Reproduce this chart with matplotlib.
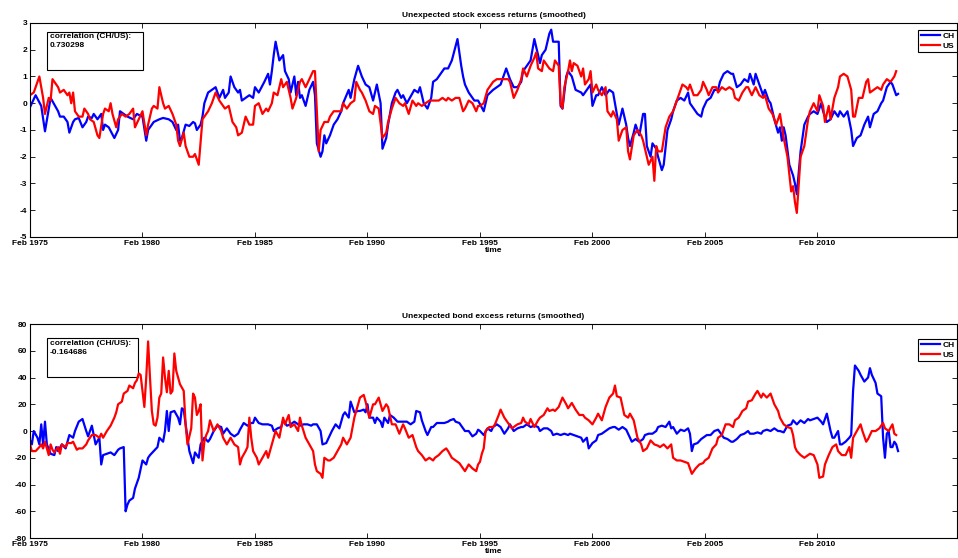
import matplotlib
matplotlib.use("Agg")
import matplotlib.pyplot as plt
from matplotlib.patches import Rectangle

plt.rcParams['font.family'] = ['Liberation Sans', 'DejaVu Sans']
plt.rcParams['font.weight'] = 'bold'

# x = months since Feb 1975
tick_months = [0, 60, 120, 180, 240, 300, 360, 420]
tick_labels = ['Feb 1975', 'Feb 1980', 'Feb 1985', 'Feb 1990', 'Feb 1995', 'Feb 2000', 'Feb 2005', 'Feb 2010']

ch_stock = [(0,-0.15),(3,0.3),(6,-0.1),(8,-1.05),(11,0.2),(15,-0.3),(16,-0.5),(18,-0.5),(20,-0.7),(21,-1.1),(23,-0.7),(24,-0.6),(26,-0.55),(28,-0.9),(30,-0.7),(31,-0.5),(33,-0.55),(34,-0.4),(36,-0.6),(38,-0.4),(39,-1.0),(40,-0.8),(42,-0.9),(45,-1.3),(47,-1.0),(48,-0.3),(50,-0.4),(52,-0.5),(55,-0.6),(57,-0.4),(60,-0.5),(62,-1.4),(63,-1.0),(66,-0.7),(69,-0.6),(71,-0.55),(74,-0.6),(76,-0.7),(78,-1.0),(79,-0.8),(80,-1.4),(81,-1.3),(83,-0.8),(85,-0.85),(87,-0.7),(88,-0.75),(89,-1.0),(91,-0.8),(92,-0.5),(93,0.0),(95,0.4),(97,0.5),(99,0.6),(100,0.4),(101,0.2),(103,0.5),(104,0.2),(106,0.4),(107,1.0),(109,0.6),(111,0.4),(112,0.5),(113,0.1),(115,0.2),(117,0.3),(119,0.2),(120,0.6),(122,0.4),(125,0.8),(127,1.1),(128,0.7),(129,1.2),(130,1.8),(131,2.3),(133,1.6),(135,1.8),(136,1.2),(138,0.9),(139,0.4),(141,1.0),(142,0.3),(143,0.8),(144,0.2),(145,0.3),(146,0.1),(147,-0.1),(149,0.5),(151,0.8),(152,0.3),(153,-1.5),(155,-2.0),(156,-1.8),(157,-1.2),(158,-1.5),(160,-1.2),(162,-0.8),(164,-0.6),(166,-0.3),(167,0.0),(170,0.5),(171,0.2),(173,0.9),(175,1.4),(177,1.0),(179,0.7),(181,0.6),(183,0.1),(184,0.4),(185,0.7),(187,0.0),(188,-1.7),(190,-1.3),(191,-0.8),(193,0.0),(195,0.4),(196,0.5),(198,0.2),(199,0.3),(201,0.0),(205,0.5),(207,0.4),(208,0.6),(210,0.0),(212,-0.2),(214,0.2),(215,0.8),(217,0.9),(221,1.3),(223,1.3),(225,1.6),(228,2.4),(230,1.4),(231,1.0),(232,0.7),(234,0.4),(237,0.1),(239,0.1),(242,-0.3),(244,0.3),(247,0.5),(251,0.7),(254,1.3),(256,0.9),(258,0.6),(260,0.6),(262,0.8),(263,1.2),(265,1.4),(267,1.6),(269,2.4),(271,1.8),(272,1.5),(273,1.8),(275,2.0),(277,2.6),(278,2.75),(279,2.3),(282,2.3),(283,-0.1),(284,-0.2),(286,1.0),(287,1.2),(289,1.0),(291,0.5),(294,0.4),(295,0.3),(297,0.5),(299,0.7),(300,-0.1),(302,0.3),(303,0.3),(305,0.6),(307,0.3),(309,0.5),(311,0.4),(312,0.0),(314,-0.8),(316,-0.2),(318,-0.8),(319,-1.3),(320,-1.6),(322,-1.1),(323,-0.8),(325,-1.2),(327,-0.4),(328,-0.4),(329,-1.6),(331,-2.0),(332,-1.5),(334,-1.7),(335,-2.0),(337,-2.5),(338,-2.3),(340,-1.0),(342,-0.6),(343,-0.3),(345,0.1),(347,0.2),(349,0.1),(351,0.4),(352,0.0),(354,-0.2),(356,-0.4),(358,-0.5),(359,-0.2),(361,0.1),(363,0.2),(365,0.5),(367,0.5),(368,0.8),(370,1.1),(372,1.2),(374,1.1),(375,1.1),(377,0.6),(379,0.7),(381,0.9),(383,0.8),(384,1.1),(386,0.7),(387,1.1),(389,0.7),(391,0.3),(392,0.5),(394,0.1),(395,0.0),(397,-0.6),(399,-1.1),(400,-0.9),(401,-1.4),(402,-0.9),(403,-1.2),(405,-2.3),(407,-2.7),(408,-3.0),(409,-3.4),(411,-1.8),(413,-0.8),(415,-0.5),(416,-0.4),(418,-0.3),(420,-0.4),(422,0.0),(423,-0.3),(425,-0.7),(427,-0.6),(429,-0.3),(431,-0.5),(432,-0.3),(434,-0.5),(436,-0.3),(438,-1.0),(439,-1.6),(441,-1.3),(443,-1.2),(445,-0.8),(447,-0.5),(448,-0.9),(450,-0.4),(452,-0.3),(454,0.0),(455,0.1),(457,0.6),(459,0.8),(460,0.7),(462,0.3),(463,0.35)]

us_stock = [(0,0.3),(2,0.4),(4,0.8),(5,1.0),(7,0.2),(8,-0.4),(10,0.2),(11,0.1),(12,0.9),(14,0.7),(15,0.6),(16,0.4),(18,0.5),(20,0.3),(21,0.4),(22,0.0),(23,0.4),(24,-0.3),(26,-0.5),(28,-0.5),(29,-0.2),(31,-0.4),(32,-0.6),(34,-0.7),(36,-1.2),(37,-1.3),(39,-0.4),(40,-0.2),(42,-0.3),(43,0.0),(44,-0.4),(46,-0.9),(47,-0.6),(49,-0.4),(51,-0.5),(53,-0.4),(55,-0.2),(56,-0.9),(58,-0.6),(60,-0.3),(62,-1.2),(63,-0.8),(65,-0.2),(66,-0.1),(68,-0.2),(69,0.6),(71,0.0),(72,-0.2),(74,-0.1),(76,-0.4),(78,-0.8),(79,-1.4),(80,-1.6),(82,-1.1),(83,-1.6),(85,-2.0),(87,-2.0),(88,-1.9),(90,-2.3),(92,-0.6),(94,-0.4),(95,-0.3),(97,0.0),(99,0.4),(101,0.1),(103,-0.1),(104,-0.2),(106,-0.1),(108,-0.7),(110,-0.9),(111,-1.2),(113,-1.1),(115,-0.5),(117,-0.8),(119,-0.8),(120,-0.1),(122,0.0),(124,-0.4),(126,-0.2),(127,-0.3),(129,0.0),(130,0.4),(132,0.3),(134,0.9),(135,0.6),(137,0.8),(139,0.2),(140,-0.2),(142,0.2),(143,0.5),(144,0.8),(145,0.9),(147,0.6),(149,0.9),(151,1.2),(152,1.2),(153,-0.3),(154,-1.8),(155,-1.0),(157,-0.7),(159,-0.7),(160,-0.5),(162,-0.3),(164,-0.3),(166,-0.3),(167,0.0),(169,-0.2),(171,0.0),(173,0.1),(174,0.8),(176,0.5),(177,0.4),(179,0.1),(181,-0.3),(183,-0.4),(184,-0.1),(186,-0.2),(188,-1.3),(190,-1.1),(191,-0.7),(193,-0.2),(195,0.2),(197,0.0),(199,-0.1),(200,0.0),(202,-0.4),(204,0.1),(206,-0.1),(207,0.0),(209,-0.1),(211,0.0),(213,0.1),(215,0.1),(216,0.1),(218,0.1),(220,0.2),(222,0.1),(223,0.2),(225,0.1),(227,0.2),(229,0.2),(231,-0.3),(232,-0.2),(234,0.1),(236,0.0),(238,-0.3),(239,-0.1),(240,-0.1),(242,0.0),(244,0.5),(246,0.7),(247,0.8),(249,0.9),(251,0.9),(253,0.9),(255,0.9),(256,0.8),(258,0.2),(260,0.5),(262,0.9),(263,1.3),(265,1.0),(267,1.4),(269,1.7),(270,1.9),(271,1.3),(273,1.2),(274,1.6),(276,1.4),(277,1.3),(279,1.2),(280,1.6),(282,1.4),(283,0.0),(284,-0.2),(285,0.6),(287,1.2),(288,1.6),(289,1.2),(290,1.5),(292,1.4),(294,1.0),(295,1.3),(296,0.7),(298,0.9),(299,1.2),(300,0.4),(302,0.7),(303,0.5),(305,0.3),(307,0.6),(308,-0.3),(310,-0.5),(311,-0.3),(313,-0.6),(314,-1.4),(316,-1.0),(318,-0.9),(319,-1.8),(320,-2.1),(322,-1.2),(324,-1.0),(326,-1.2),(327,-1.4),(328,-1.7),(330,-2.3),(332,-2.0),(333,-2.9),(334,-1.6),(335,-1.8),(337,-1.8),(339,-0.9),(341,-0.5),(343,-0.3),(344,-0.1),(346,0.3),(348,0.7),(350,0.6),(351,0.5),(352,0.7),(354,0.3),(356,0.3),(358,0.5),(359,0.8),(361,0.5),(362,0.3),(364,0.6),(366,0.6),(367,0.4),(369,0.6),(371,0.5),(373,0.6),(375,0.5),(376,0.2),(378,0.1),(380,0.4),(382,0.6),(383,0.6),(385,0.3),(387,0.6),(389,0.3),(391,0.2),(392,0.3),(394,-0.2),(396,-0.4),(398,-0.8),(399,-0.6),(400,-0.4),(402,-1.3),(404,-2.0),(406,-3.3),(407,-3.1),(408,-3.7),(409,-4.1),(411,-2.0),(413,-1.6),(415,-0.6),(416,-0.3),(418,0.0),(420,-0.3),(421,0.3),(423,-0.1),(424,-0.7),(426,-0.1),(427,-0.6),(429,0.2),(431,0.6),(432,1.0),(434,1.1),(436,1.0),(438,0.5),(439,-0.5),(440,-0.5),(442,0.2),(444,0.2),(446,0.8),(447,0.9),(448,0.4),(450,0.5),(452,0.6),(454,0.5),(455,0.7),(457,0.9),(459,0.8),(461,1.0),(462,1.2)]

ch_bond = [(0,-7),(1,-10),(2,0),(4,-5),(5,-10),(6,5),(7,-10),(8,7),(9,-10),(11,-17),(13,-18),(14,-12),(15,-15),(17,-10),(19,-13),(21,-3),(23,-5),(24,0),(26,7),(28,9),(30,0),(31,-4),(33,4),(34,-3),(35,-10),(37,-5),(38,-25),(39,-18),(41,-17),(43,-16),(45,-18),(47,-14),(48,-13),(50,-12),(51,-60),(52,-55),(53,-52),(55,-50),(56,-43),(58,-35),(60,-22),(62,-25),(63,-20),(64,-18),(66,-15),(68,-12),(69,-5),(71,-8),(72,0),(73,15),(74,0),(75,14),(77,15),(79,10),(80,5),(81,17),(82,16),(83,5),(85,-15),(87,-24),(88,-16),(90,-20),(91,-10),(93,-5),(95,-8),(96,-6),(98,0),(100,4),(102,3),(103,-2),(105,2),(107,-2),(109,-4),(111,-2),(112,1),(114,6),(116,4),(118,6),(119,6),(120,10),(122,6),(124,5),(126,5),(127,5),(129,4),(130,0),(132,2),(134,3),(135,8),(137,4),(139,5),(141,7),(143,5),(144,4),(146,5),(148,5),(150,4),(151,5),(153,5),(155,0),(156,-10),(158,-9),(159,-6),(161,0),(163,5),(165,2),(167,12),(168,14),(170,10),(171,22),(173,14),(175,15),(176,15),(178,16),(179,14),(180,20),(181,10),(183,10),(184,6),(185,10),(187,7),(188,3),(189,10),(191,6),(192,12),(194,10),(196,7),(198,7),(199,7),(201,7),(203,5),(205,7),(206,15),(208,14),(209,8),(211,0),(212,-3),(214,3),(215,3),(217,6),(219,6),(221,6),(223,7),(224,8),(226,9),(227,7),(229,6),(231,2),(232,0),(234,0),(236,-4),(238,-2),(239,1),(240,0),(242,-3),(244,2),(246,0),(247,3),(249,5),(251,3),(253,-2),(255,2),(256,5),(258,0),(260,2),(262,3),(263,3),(265,5),(267,3),(269,4),(271,3),(272,0),(274,2),(276,2),(278,0),(279,-3),(281,-2),(283,-3),(285,-2),(287,-3),(288,-2),(290,-3),(292,-4),(294,-5),(295,-8),(297,-5),(298,-13),(300,-9),(302,-7),(303,-3),(305,-2),(307,0),(309,2),(311,3),(312,3),(314,1),(316,3),(318,1),(319,-2),(321,-8),(323,-6),(325,-8),(327,-6),(328,-3),(330,-2),(332,-2),(334,0),(335,3),(337,4),(339,3),(341,7),(342,2),(343,3),(345,-2),(347,1),(349,0),(351,2),(352,-2),(353,-15),(354,-10),(356,-9),(358,-6),(359,-5),(361,-3),(363,-3),(365,0),(367,1),(368,-1),(370,-5),(372,-6),(374,-8),(375,-8),(377,-6),(379,-3),(381,-2),(383,0),(384,-2),(386,-2),(388,-1),(390,-2),(391,0),(393,1),(395,0),(397,2),(399,0),(400,0),(402,-1),(404,4),(406,5),(407,8),(409,5),(411,8),(413,6),(415,9),(416,8),(418,9),(420,10),(422,7),(423,5),(425,13),(427,0),(428,-5),(429,-5),(431,0),(432,-10),(433,-10),(435,-8),(437,-5),(438,-3),(439,30),(440,49),(442,45),(443,42),(445,37),(447,40),(448,47),(449,42),(451,36),(452,28),(454,26),(455,-5),(456,-20),(457,-2),(458,0),(459,-12),(460,-12),(461,-8),(462,-10),(463,-15)]

us_bond = [(0,-10),(1,-15),(3,-15),(5,-12),(6,-10),(7,-13),(8,-8),(10,-18),(11,-10),(12,-14),(13,-16),(15,-12),(16,-17),(17,-10),(19,-12),(20,-9),(22,-9),(23,-8),(25,-14),(26,-13),(28,-13),(30,-10),(31,-7),(33,-3),(35,-3),(37,-5),(38,-2),(39,-5),(41,0),(43,4),(45,10),(46,14),(47,20),(49,22),(50,28),(52,30),(53,34),(55,32),(56,36),(57,38),(58,43),(59,42),(60,30),(61,18),(62,40),(63,67),(64,40),(65,15),(66,5),(67,4),(68,10),(69,25),(70,28),(71,55),(72,40),(73,29),(74,45),(75,28),(76,30),(77,58),(78,45),(79,40),(80,35),(82,30),(83,5),(84,-10),(86,2),(87,28),(88,25),(89,12),(90,15),(91,20),(92,-22),(93,-8),(94,-3),(95,0),(96,8),(98,0),(100,5),(102,0),(103,-5),(105,-10),(107,-5),(109,-10),(111,-12),(112,-25),(113,-20),(115,-15),(116,-12),(117,10),(118,-5),(119,-15),(121,-20),(122,-25),(124,-20),(126,-15),(127,-20),(129,-10),(131,0),(133,-5),(135,10),(136,5),(138,12),(139,3),(141,5),(143,0),(144,10),(145,4),(147,-5),(149,-10),(151,-15),(152,-25),(153,-30),(155,-32),(156,-35),(157,-20),(159,-22),(160,-22),(162,-20),(164,-15),(166,-10),(167,-5),(169,-10),(171,-5),(173,10),(175,20),(176,25),(178,27),(179,22),(181,10),(183,20),(184,20),(186,25),(188,15),(190,20),(191,18),(193,5),(195,5),(197,-2),(199,5),(200,2),(202,-5),(204,-3),(206,-12),(207,-15),(209,-18),(211,-22),(213,-20),(215,-22),(216,-20),(218,-18),(220,-15),(222,-13),(223,-15),(225,-20),(227,-22),(229,-24),(231,-28),(232,-30),(234,-25),(236,-28),(238,-30),(239,-25),(240,-23),(241,-17),(242,-13),(243,0),(245,3),(247,3),(248,5),(250,12),(251,16),(253,10),(254,8),(255,6),(257,2),(258,3),(260,5),(262,6),(263,10),(264,7),(266,5),(267,9),(269,3),(271,8),(272,10),(274,12),(276,17),(277,15),(279,16),(280,15),(282,18),(284,25),(286,20),(287,17),(289,21),(291,16),(293,12),(295,12),(296,10),(298,8),(300,5),(302,10),(303,13),(305,8),(307,18),(309,25),(311,28),(312,34),(313,26),(315,25),(317,12),(319,10),(320,13),(322,8),(324,-5),(326,-10),(327,-15),(329,-13),(331,-7),(333,-10),(335,-11),(336,-12),(338,-10),(340,-13),(342,-10),(343,-20),(345,-22),(347,-22),(349,-23),(351,-24),(352,-28),(353,-32),(355,-28),(357,-25),(359,-24),(360,-22),(362,-20),(364,-13),(366,-10),(367,-5),(369,-3),(371,5),(373,5),(375,3),(376,8),(378,10),(380,15),(382,17),(383,22),(385,23),(387,28),(388,30),(390,25),(391,28),(393,25),(395,28),(397,20),(399,15),(400,10),(402,5),(404,3),(406,2),(407,-3),(408,-12),(409,-15),(411,-18),(413,-20),(415,-18),(416,-17),(418,-18),(420,-25),(421,-35),(423,-34),(424,-25),(426,-18),(428,-12),(430,-10),(431,-15),(433,-18),(435,-18),(437,-12),(438,-20),(439,-5),(441,0),(443,5),(444,0),(446,-8),(447,-6),(449,0),(451,0),(453,2),(455,6),(456,2),(458,0),(460,5),(461,-2),(462,-3)]

titles = ['Unexpected stock excess returns (smoothed)', 'Unexpected bond excess returns (smoothed)']
corr_texts = ['correlation (CH/US):\n0.730298', 'correlation (CH/US):\n-0.164686']
series_names = ['CH', 'US']
stock_yticks = [-5, -4, -3, -2, -1, 0, 1, 2, 3]
bond_yticks = [-80, -60, -40, -20, 0, 20, 40, 60, 80]

fig = plt.figure(figsize=(9.58, 5.58), dpi=100)
ax1 = fig.add_axes([0.0313, 0.5753, 0.9676, 0.3835])
ax2 = fig.add_axes([0.0313, 0.0358, 0.9676, 0.3835])

FS = 6
panels = [
    (ax1, ch_stock, us_stock, stock_yticks, titles[0], corr_texts[0],
     (0.0183, 0.780, 0.1036, 0.178), 0.953, 0.967),
    (ax2, ch_bond, us_bond, bond_yticks, titles[1], corr_texts[1],
     (0.0183, 0.752, 0.0982, 0.183), 0.925, 0.930),
]

for ax, ch, us, yt, title, ctext, box, ty, legy in panels:
    cx, cy = zip(*ch)
    ux, uy = zip(*us)
    ax.plot(cx, cy, color=(0, 0, 1), lw=1.6, label=series_names[0])
    ax.plot(ux, uy, color=(1, 0, 0), lw=1.6, label=series_names[1])
    ax.set_xlim(0, 494.4)
    ax.set_ylim(yt[0], yt[-1])
    ax.set_yticks(yt)
    ax.set_yticklabels([str(v) for v in yt])
    ax.set_xticks(tick_months)
    ax.set_xticklabels(tick_labels)
    ax.tick_params(direction='in', top=True, right=True, length=3.5, width=0.6,
                   labelsize=FS, pad=2)
    for lab in ax.get_xticklabels() + ax.get_yticklabels():
        lab.set_fontweight('bold')
    for sp in ax.spines.values():
        sp.set_linewidth(0.8)
    ax.set_title(title, fontsize=FS, fontweight='bold', pad=4)
    ax.set_xlabel('time', fontsize=FS, fontweight='bold', labelpad=0)
    ax.add_patch(Rectangle((box[0], box[1]), box[2], box[3], transform=ax.transAxes,
                           fill=False, edgecolor='black', lw=0.8))
    ax.text(0.0216, ty, ctext, transform=ax.transAxes, fontsize=FS, fontweight='bold',
            va='top', ha='left', linespacing=1.3)
    leg = ax.legend(loc='upper right', bbox_to_anchor=(1.0, legy), fontsize=FS,
                    frameon=True, fancybox=False, edgecolor='black', framealpha=1,
                    borderaxespad=0, handlelength=2.3, handletextpad=0.3,
                    borderpad=0.3, labelspacing=0.2)
    leg.get_frame().set_linewidth(0.8)
    for t in leg.get_texts():
        t.set_fontweight('bold')

fig.savefig('out.png', dpi=100)
